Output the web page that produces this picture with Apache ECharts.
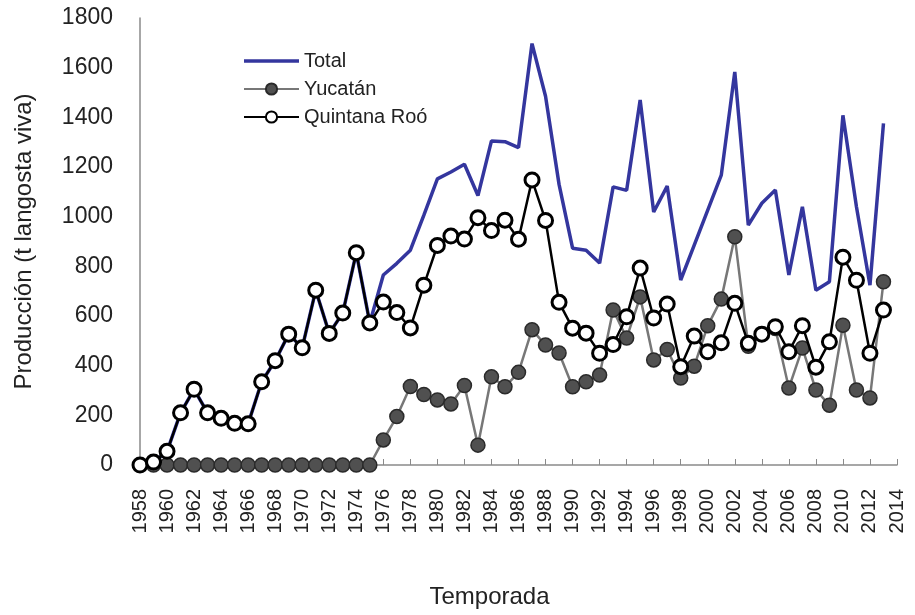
<!DOCTYPE html>
<html>
<head>
<meta charset="utf-8">
<script src="https://cdn.jsdelivr.net/npm/echarts@6/dist/echarts.min.js"></script>
<style>
html,body{margin:0;padding:0;background:#fff;}
#chart{width:915px;height:615px;}
</style>
</head>
<body>
<div id="chart"></div>
<script>
const years = ['1958','1959','1960','1961','1962','1963','1964','1965','1966','1967',
  '1968','1969','1970','1971','1972','1973','1974','1975','1976','1977',
  '1978','1979','1980','1981','1982','1983','1984','1985','1986','1987',
  '1988','1989','1990','1991','1992','1993','1994','1995','1996','1997',
  '1998','1999','2000','2001','2002','2003','2004','2005','2006','2007',
  '2008','2009','2010','2011','2012','2013','2014'];

const total = [0,12,55,210,305,210,188,168,166,335,
  420,527,472,704,530,612,855,572,765,812,
  865,1006,1152,1180,1211,1085,1305,1302,1278,1697,
  1485,1130,873,865,813,1120,1106,1470,1019,1123,
  745,885,1026,1167,1583,966,1054,1107,765,1040,
  704,738,1408,1040,724,1376];

const yucatan = [0,0,0,0,0,0,0,0,0,0,
  0,0,0,0,0,0,0,0,101,195,
  316,284,262,246,320,80,355,315,373,545,
  483,451,315,335,362,624,511,677,423,465,
  350,398,561,668,919,478,527,550,310,471,
  302,241,563,302,270,738];

const quintanaRoo = [0,12,55,210,305,210,188,168,166,335,
  420,527,472,704,530,612,855,572,656,614,
  552,724,884,922,910,996,944,986,909,1148,
  985,655,551,531,450,485,597,793,592,648,
  396,519,456,492,651,490,527,557,456,561,
  394,496,837,744,450,624];

const yTicks = {min:0, max:1800, interval:200};

const chart = echarts.init(document.getElementById('chart'));
const font = 'Liberation Sans, Arial, sans-serif';
chart.setOption({
  animation:false,
  backgroundColor:'#ffffff',
  grid:{left:140, right:18, top:18, bottom:150, containLabel:false},
  legend:{
    orient:'vertical', left:238, top:46, itemWidth:55, itemHeight:14, itemGap:8,
    textStyle:{fontFamily:font, fontSize:20, color:'#222'},
    data:[
      {name:'Total', icon:'path://M0,0 L55,0 L55,3.5 L0,3.5 Z'},
      {name:'Yucatán'},
      {name:'Quintana Roó'}
    ]
  },
  xAxis:{
    type:'category', boundaryGap:false, data:years,
    name:'Temporada', nameLocation:'middle', nameGap:120,
    nameTextStyle:{fontFamily:font, fontSize:24, color:'#222', padding:[0,58,0,0]},
    axisLine:{lineStyle:{color:'#8a8a8a', width:1.5}},
    axisTick:{show:true, inside:true, interval:1, length:6, lineStyle:{color:'#8a8a8a'}},
    axisLabel:{interval:1, rotate:90, margin:24, fontFamily:font, fontSize:20, color:'#222'},
    splitLine:{show:false}
  },
  yAxis:{
    type:'value', min:yTicks.min, max:yTicks.max, interval:yTicks.interval,
    name:'Producción (t langosta viva)', nameLocation:'middle', nameGap:104,
    nameTextStyle:{fontFamily:font, fontSize:24, color:'#222'},
    axisLine:{show:true, lineStyle:{color:'#8a8a8a', width:1.5}},
    axisTick:{show:false},
    axisLabel:{margin:27, fontFamily:font, fontSize:23, color:'#222',
      formatter:function(v){return String(v);}},
    splitLine:{show:false}
  },
  series:[
    {name:'Total', type:'line', data:total, symbol:'none',
     lineStyle:{color:'#34369e', width:3.5}, itemStyle:{color:'#34369e'}, z:1},
    {name:'Yucatán', type:'line', data:yucatan, symbol:'circle', symbolSize:14, showAllSymbol:true,
     lineStyle:{color:'#777777', width:2.5},
     itemStyle:{color:'#505050', borderColor:'#2a2a2a', borderWidth:1.5}, z:2},
    {name:'Quintana Roó', type:'line', data:quintanaRoo, symbol:'circle', symbolSize:14, showAllSymbol:true,
     lineStyle:{color:'#000000', width:2.5},
     itemStyle:{color:'#ffffff', borderColor:'#000000', borderWidth:3}, z:3}
  ]
});
</script>
</body>
</html>
